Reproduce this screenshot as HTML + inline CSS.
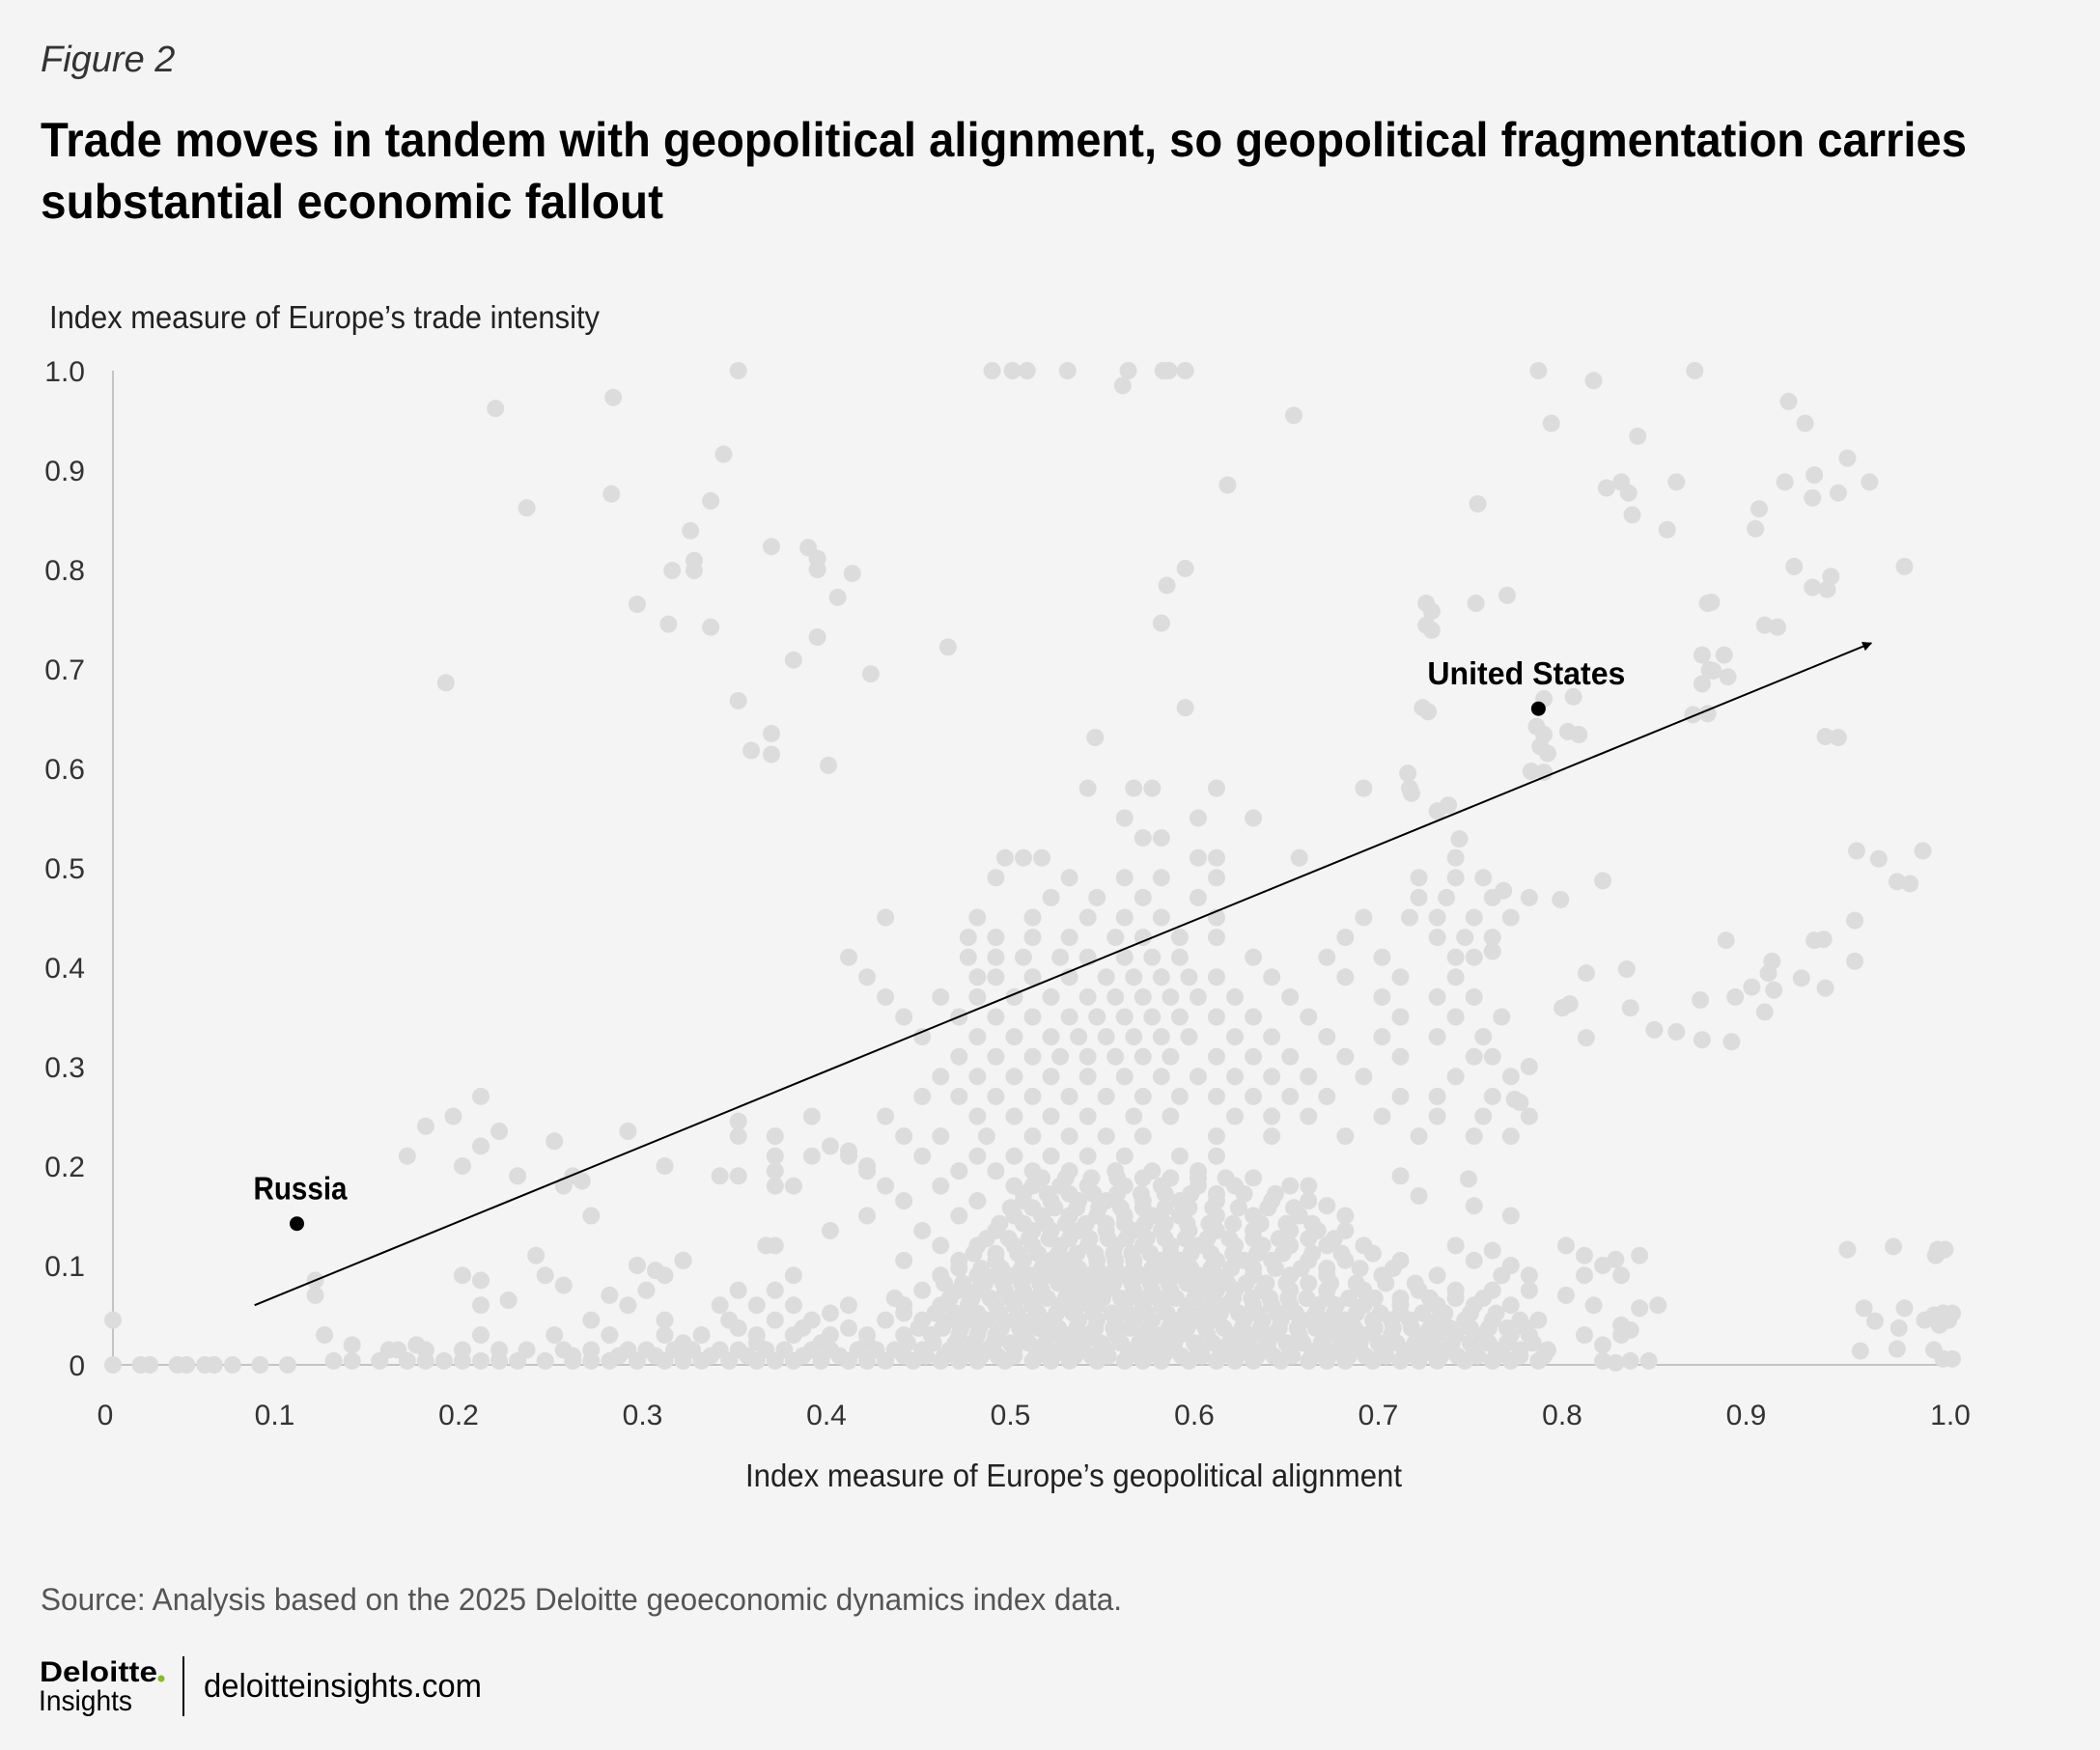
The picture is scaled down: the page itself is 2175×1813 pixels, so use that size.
<!DOCTYPE html>
<html><head><meta charset="utf-8">
<style>
html,body{margin:0;padding:0;background:#f4f4f4;}
svg{display:block;}
text{font-family:"Liberation Sans",sans-serif;}
</style></head>
<body>
<svg id="chart" width="2175" height="1813" viewBox="0 0 2175 1813" xmlns="http://www.w3.org/2000/svg">
<defs><marker id="ah" markerWidth="10" markerHeight="10" refX="9" refY="5" orient="auto" markerUnits="userSpaceOnUse" viewBox="0 0 10 10"><path d="M0,0 L10,5 L0,10 z" fill="#000"/></marker></defs>
<rect width="2175" height="1813" fill="#f4f4f4"/>
<text x="42" y="74" font-family="Liberation Serif,serif" font-style="italic" font-size="38" fill="#333">Figure 2</text>
<text x="42" y="162" font-size="50" font-weight="bold" fill="#000" textLength="1995" lengthAdjust="spacingAndGlyphs">Trade moves in tandem with geopolitical alignment, so geopolitical fragmentation carries</text>
<text x="42" y="226" font-size="50" font-weight="bold" fill="#000" textLength="645" lengthAdjust="spacingAndGlyphs">substantial economic fallout</text>
<text x="51" y="340" font-size="33" fill="#222" textLength="570" lengthAdjust="spacingAndGlyphs">Index measure of Europe’s trade intensity</text>
<g id="yticks"></g><g id="xticks"></g>
<line x1="117" y1="384" x2="117" y2="1414" stroke="#c4c4c4" stroke-width="2"/>
<line x1="117" y1="1414" x2="2022" y2="1414" stroke="#c4c4c4" stroke-width="2"/>
<g id="dots"></g>
<g id="annot"></g>
<text x="1112" y="1540" text-anchor="middle" font-size="33" fill="#222" textLength="680" lengthAdjust="spacingAndGlyphs">Index measure of Europe’s geopolitical alignment</text>
<text x="42" y="1668" font-size="32" fill="#555" textLength="1120" lengthAdjust="spacingAndGlyphs">Source: Analysis based on the 2025 Deloitte geoeconomic dynamics index data.</text>
<text x="41" y="1742" font-size="30" font-weight="bold" fill="#000" textLength="122" lengthAdjust="spacingAndGlyphs">Deloitte</text>
<circle cx="167" cy="1739" r="3.5" fill="#86bc25"/>
<text x="40" y="1772" font-size="30" fill="#000" textLength="97" lengthAdjust="spacingAndGlyphs">Insights</text>
<line x1="190" y1="1716" x2="190" y2="1778" stroke="#000" stroke-width="2"/>
<text x="211" y="1758" font-size="34" fill="#000" textLength="288" lengthAdjust="spacingAndGlyphs">deloitteinsights.com</text>
</svg>
<script>
const yTickValues = [0, 0.1, 0.2, 0.3, 0.4, 0.5, 0.6, 0.7, 0.8, 0.9, 1.0];
const yTickLabels = ["0","0.1","0.2","0.3","0.4","0.5","0.6","0.7","0.8","0.9","1.0"];
const xTickValues = [0, 0.1, 0.2, 0.3, 0.4, 0.5, 0.6, 0.7, 0.8, 0.9, 1.0];
const xTickLabels = ["0","0.1","0.2","0.3","0.4","0.5","0.6","0.7","0.8","0.9","1.0"];
const outlierPoints = [[0.34,1],[0.478,1],[0.489,1],[0.497,1],[0.519,1],[0.549,0.985],[0.552,1],[0.571,1],[0.574,1],[0.583,1],[0.775,1],[0.805,0.99],[0.86,1],
[0.208,0.962],[0.271,0.876],[0.225,0.862],[0.272,0.973],[0.332,0.916],[0.325,0.869],[0.314,0.839],[0.316,0.809],[0.316,0.799],[0.304,0.799],[0.302,0.745],[0.325,0.742],[0.285,0.765],[0.181,0.686],[0.34,0.668],[0.347,0.618],[0.358,0.614],[0.358,0.635],[0.358,0.823],[0.378,0.822],[0.383,0.8],[0.383,0.811],[0.394,0.772],[0.402,0.796],[0.37,0.709],[0.383,0.732],[0.389,0.603],[0.412,0.695],[0.454,0.722],
[0.642,0.955],[0.606,0.885],[0.583,0.801],[0.573,0.784],[0.57,0.746],[0.583,0.661],[0.534,0.631],[0.717,0.758],[0.717,0.739],[0.715,0.657],[0.741,0.766],[0.742,0.866],[0.778,0.634],[0.78,0.615],[0.778,0.596],[0.797,0.634],[0.778,0.67],
[0.782,0.947],[0.829,0.934],[0.812,0.882],[0.82,0.888],[0.824,0.877],[0.826,0.855],[0.845,0.84],[0.85,0.888],[0.867,0.766],[0.868,0.699],[0.876,0.714],[0.878,0.692],[0.867,0.655],[0.895,0.861],[0.893,0.841],[0.911,0.969],[0.92,0.947],[0.909,0.888],[0.925,0.895],[0.924,0.872],[0.938,0.877],[0.932,0.78],[0.934,0.793],[0.943,0.912],[0.955,0.888],[0.974,0.803],[0.905,0.742],[0.914,0.803],[0.938,0.631],[0.93,0.428],
[0.948,0.517],[0.96,0.509],[0.984,0.517],[0.97,0.486],[0.977,0.484],[0.947,0.447],[0.947,0.406],[0.925,0.427],[0.931,0.379],[0.918,0.389],[0.902,0.406],[0.9,0.394],[0.903,0.377],[0.891,0.38],[0.882,0.37],[0.898,0.355],[0.877,0.427],[0.88,0.325],[0.863,0.367],[0.864,0.327],[0.85,0.335],[0.838,0.337],[0.825,0.359],[0.823,0.398],[0.81,0.487],[0.787,0.468],[0.801,0.394],[0.801,0.329],[0.792,0.363],[0.788,0.359],[0.77,0.3],[0.765,0.264],[0.762,0.267],[0.737,0.187],[0.756,0.477],[0.75,0.416],
[0.732,0.529],[0.726,0.563],[0.72,0.557],[0.706,0.575],[0.704,0.595],[0.712,0.661],[0.714,0.744],[0.714,0.766],[0.758,0.774],[0.771,0.597],[0.776,0.622],[0.774,0.642],[0.791,0.637],[0.794,0.672],[0.859,0.654],[0.864,0.685],[0.87,0.698],[0.864,0.714],[0.869,0.767],[0.898,0.744],[0.931,0.632],[0.924,0.782],
[0.943,0.116],[0.968,0.119],[0.992,0.116],[0.996,0.116],[0.991,0.11],[0.952,0.057],[0.958,0.044],[0.974,0.057],[0.971,0.037],[0.95,0.014],[0.97,0.016],[0.985,0.045],[0.99,0.05],[0.995,0.052],[1.0,0.052],[0.998,0.045],[0.993,0.04],[0.99,0.015],[0.995,0.006],[1.0,0.006],[0.83,0.057],[0.817,0.106],[0.817,0.002],
[0,0],[0.015,0],[0.02,0],[0.035,0],[0.04,0],[0.05,0],[0.055,0],[0.065,0],[0.08,0],[0.095,0],[0,0.045]];
const sidePoints = [[0.17,0.24],[0.16,0.21],[0.19,0.2],[0.2,0.22],[0.185,0.25],[0.2,0.27],[0.21,0.235],[0.24,0.225],[0.22,0.19],[0.245,0.18],[0.255,0.185],[0.25,0.19],[0.19,0.09],[0.2,0.085],[0.2,0.06],[0.215,0.065],[0.23,0.11],[0.235,0.09],[0.245,0.08],[0.27,0.07],[0.285,0.1],[0.26,0.15],[0.295,0.095],[0.31,0.105],[0.28,0.235],[0.3,0.2],[0.34,0.245],[0.34,0.19],[0.33,0.19],[0.355,0.12],[0.36,0.18],[0.38,0.21],[0.39,0.22],[0.4,0.215],[0.41,0.2],[0.11,0.085],[0.11,0.07],[0.115,0.03],[0.13,0.02],[0.165,0.02],[0.15,0.015],
[0.73,0.12],[0.75,0.115],[0.76,0.1],[0.77,0.09],[0.79,0.12],[0.8,0.11],[0.81,0.1],[0.82,0.09],[0.83,0.11],[0.79,0.07],[0.805,0.06],[0.82,0.04],[0.825,0.035],[0.81,0.02],[0.84,0.06],[0.76,0.15],[0.74,0.16],[0.7,0.19],[0.71,0.17],[0.65,0.18],[0.66,0.16]];
const cloudRowY = [0.004,0.015,0.03,0.045,0.06,0.075,0.09,0.105,0.12,0.135,0.15,0.165,0.18,0.195,0.21,0.23,0.25,0.27,0.29,0.31,0.33,0.35,0.37,0.39,0.41,0.43,0.45,0.47,0.49,0.51,0.53,0.55,0.58];
const cloudRowX = [
[0.12,0.13,0.145,0.16,0.17,0.18,0.19,0.2,0.21,0.22,0.235,0.25,0.26,0.27,0.285,0.3,0.31,0.32,0.335,0.35,0.36,0.37,0.385,0.4,0.41,0.42,0.435,0.45,0.46,0.47,0.485,0.5,0.51,0.52,0.535,0.55,0.56,0.57,0.585,0.6,0.61,0.62,0.635,0.65,0.66,0.67,0.685,0.7,0.71,0.72,0.735,0.75,0.76,0.775,0.81,0.825,0.835],
[0.155,0.17,0.19,0.21,0.225,0.245,0.26,0.28,0.29,0.305,0.315,0.33,0.34,0.355,0.365,0.38,0.39,0.405,0.415,0.425,0.44,0.455,0.465,0.475,0.49,0.505,0.515,0.525,0.54,0.555,0.565,0.575,0.59,0.605,0.615,0.625,0.64,0.655,0.665,0.675,0.69,0.705,0.715,0.725,0.74,0.755,0.765,0.78],
[0.2,0.24,0.27,0.3,0.32,0.35,0.37,0.39,0.41,0.43,0.445,0.46,0.47,0.48,0.495,0.51,0.52,0.53,0.545,0.56,0.57,0.58,0.595,0.61,0.62,0.63,0.645,0.66,0.67,0.68,0.695,0.71,0.72,0.73,0.745,0.76,0.77,0.8,0.82],
[0.26,0.3,0.335,0.36,0.38,0.42,0.44,0.455,0.465,0.475,0.49,0.5,0.51,0.525,0.535,0.545,0.555,0.565,0.58,0.59,0.6,0.615,0.625,0.635,0.65,0.66,0.67,0.685,0.695,0.705,0.72,0.735,0.75,0.765,0.775],
[0.28,0.33,0.35,0.37,0.4,0.43,0.45,0.465,0.48,0.49,0.5,0.515,0.525,0.535,0.55,0.56,0.57,0.585,0.595,0.605,0.62,0.63,0.64,0.655,0.665,0.68,0.7,0.72,0.74,0.76],
[0.29,0.34,0.36,0.44,0.46,0.47,0.485,0.495,0.505,0.52,0.53,0.54,0.555,0.565,0.575,0.59,0.6,0.61,0.625,0.64,0.66,0.68,0.71,0.73,0.75,0.77],
[0.3,0.37,0.45,0.47,0.48,0.49,0.5,0.51,0.52,0.53,0.54,0.55,0.56,0.57,0.58,0.59,0.6,0.62,0.64,0.66,0.69,0.72,0.755,0.8],
[0.31,0.43,0.46,0.48,0.495,0.51,0.52,0.535,0.545,0.555,0.57,0.58,0.6,0.615,0.63,0.65,0.67,0.7,0.74],
[0.36,0.45,0.47,0.49,0.5,0.515,0.53,0.545,0.56,0.575,0.59,0.61,0.625,0.64,0.66,0.68],
[0.39,0.44,0.48,0.5,0.51,0.525,0.54,0.555,0.57,0.585,0.6,0.62,0.64,0.655,0.67],
[0.41,0.46,0.49,0.505,0.52,0.535,0.55,0.565,0.58,0.6,0.62,0.645,0.67],
[0.43,0.47,0.495,0.51,0.525,0.54,0.56,0.58,0.6,0.63,0.65],
[0.37,0.42,0.45,0.49,0.5,0.515,0.53,0.55,0.57,0.59,0.61,0.64],
[0.36,0.41,0.46,0.48,0.5,0.52,0.545,0.565,0.59],
[0.36,0.4,0.44,0.47,0.49,0.51,0.53,0.55,0.58,0.6],
[0.34,0.36,0.43,0.45,0.475,0.5,0.52,0.54,0.56,0.6,0.63,0.67,0.71,0.74,0.76],
[0.38,0.42,0.47,0.49,0.51,0.53,0.555,0.575,0.61,0.63,0.65,0.69,0.72,0.745,0.77],
[0.44,0.46,0.48,0.5,0.52,0.54,0.56,0.58,0.6,0.62,0.64,0.66,0.7,0.72,0.75],
[0.45,0.47,0.49,0.51,0.53,0.55,0.57,0.59,0.61,0.63,0.65,0.68,0.73,0.76],
[0.46,0.48,0.5,0.515,0.53,0.545,0.56,0.575,0.6,0.62,0.64,0.67,0.7,0.74,0.75],
[0.44,0.47,0.49,0.51,0.525,0.54,0.555,0.57,0.585,0.61,0.63,0.66,0.69,0.72,0.745],
[0.43,0.46,0.48,0.5,0.52,0.535,0.55,0.565,0.58,0.6,0.62,0.65,0.7,0.73,0.755],
[0.42,0.45,0.47,0.49,0.51,0.53,0.545,0.56,0.575,0.59,0.61,0.64,0.69,0.72,0.74],
[0.41,0.47,0.48,0.5,0.52,0.54,0.555,0.57,0.585,0.6,0.63,0.67,0.7,0.73],
[0.4,0.465,0.48,0.495,0.515,0.53,0.55,0.565,0.58,0.62,0.66,0.69,0.73,0.74],
[0.465,0.48,0.5,0.52,0.545,0.56,0.58,0.6,0.67,0.72,0.735,0.75],
[0.42,0.47,0.5,0.53,0.55,0.57,0.6,0.68,0.705,0.72,0.74,0.76],
[0.51,0.535,0.56,0.59,0.71,0.725,0.75,0.77],
[0.48,0.52,0.55,0.57,0.6,0.71,0.73,0.745],
[0.485,0.495,0.505,0.59,0.6,0.645,0.73],
[0.56,0.57],
[0.55,0.59,0.62],
[0.53,0.555,0.565,0.6,0.68,0.705]];
const coreRowY = [0.009,0.022,0.037,0.052,0.067,0.082,0.097,0.112,0.127,0.142,0.158,0.172,0.188];
const coreRowX = [
[0.25,0.275,0.295,0.325,0.345,0.375,0.395,0.43,0.442,0.452,0.462,0.472,0.481,0.49,0.502,0.511,0.523,0.532,0.541,0.552,0.562,0.571,0.581,0.592,0.602,0.611,0.622,0.631,0.641,0.652,0.661,0.672,0.681,0.692,0.702,0.711,0.722,0.731,0.742,0.752,0.765,0.778],
[0.31,0.35,0.385,0.41,0.432,0.446,0.458,0.468,0.479,0.488,0.498,0.507,0.518,0.528,0.537,0.548,0.558,0.567,0.577,0.588,0.598,0.607,0.617,0.628,0.638,0.647,0.657,0.668,0.678,0.688,0.698,0.708,0.718,0.728,0.738,0.748,0.758,0.772],
[0.34,0.375,0.4,0.438,0.451,0.461,0.471,0.483,0.493,0.503,0.514,0.524,0.534,0.544,0.553,0.563,0.574,0.584,0.594,0.604,0.614,0.624,0.634,0.644,0.654,0.664,0.675,0.686,0.696,0.706,0.716,0.727,0.738,0.748,0.758,0.768],
[0.39,0.43,0.447,0.458,0.47,0.482,0.492,0.503,0.513,0.522,0.533,0.543,0.552,0.562,0.573,0.583,0.593,0.602,0.612,0.622,0.633,0.643,0.654,0.664,0.676,0.689,0.7,0.712,0.724,0.738,0.752],
[0.425,0.455,0.467,0.477,0.488,0.498,0.508,0.518,0.528,0.538,0.548,0.558,0.568,0.578,0.588,0.598,0.609,0.619,0.629,0.639,0.649,0.66,0.672,0.686,0.7,0.716,0.73,0.745],
[0.452,0.462,0.474,0.484,0.494,0.504,0.514,0.524,0.534,0.544,0.554,0.564,0.574,0.584,0.595,0.606,0.616,0.627,0.638,0.65,0.662,0.676,0.692,0.708],
[0.46,0.472,0.483,0.494,0.505,0.515,0.525,0.535,0.545,0.555,0.565,0.575,0.586,0.597,0.608,0.62,0.632,0.646,0.66,0.678,0.696],
[0.468,0.48,0.492,0.503,0.514,0.524,0.534,0.544,0.554,0.564,0.575,0.586,0.597,0.609,0.622,0.636,0.652,0.668,0.685],
[0.475,0.487,0.498,0.509,0.52,0.531,0.541,0.551,0.562,0.572,0.583,0.595,0.607,0.62,0.634,0.65,0.664],
[0.482,0.495,0.507,0.518,0.529,0.54,0.55,0.561,0.572,0.584,0.596,0.609,0.624,0.638,0.652],
[0.488,0.5,0.512,0.524,0.536,0.548,0.56,0.572,0.585,0.598,0.612,0.628,0.642],
[0.495,0.508,0.52,0.533,0.546,0.559,0.572,0.586,0.6,0.615,0.632],
[0.505,0.518,0.532,0.546,0.56,0.575,0.59,0.605,0.62]];
const labelNames = ["Russia","United States"];
const labelX = [0.1, 0.775];
const labelY = [0.142, 0.66];
const trendStart = [0.077, 0.06];
const trendEnd = [0.956, 0.726];

const NS = "http://www.w3.org/2000/svg";
const X0 = 117, X1 = 2022, Y0 = 1414, Y1 = 384;
function sx(v){ return X0 + v*(X1-X0); }
function sy(v){ return Y0 - v*(Y0-Y1); }
function mk(tag, attrs, parent){ const e=document.createElementNS(NS,tag); for(const k in attrs) e.setAttribute(k,attrs[k]); parent.appendChild(e); return e; }

const yt = document.getElementById('yticks');
yTickValues.forEach((v,i)=>{
  const t = mk('text',{x:88,y:sy(v)+11,'text-anchor':'end','font-size':30,fill:'#333'},yt);
  
  
  t.textContent = yTickLabels[i];
});
const xt = document.getElementById('xticks');
xTickValues.forEach((v,i)=>{
  const off = (i===0) ? -8 : (i===xTickValues.length-1 ? -2 : -23);
  const t = mk('text',{x:sx(v)+off,y:1476,'text-anchor':'middle','font-size':30,fill:'#333'},xt);
  
  
  t.textContent = xTickLabels[i];
});
const dots = document.getElementById('dots');
function dot(x,y){
  const c = mk('circle',{cx:sx(x),cy:sy(y),r:9,fill:'#dcdcdd'},dots);
  
  
}
cloudRowY.forEach((y,i)=>{ cloudRowX[i].forEach(x=>dot(x,y)); });
coreRowY.forEach((y,i)=>{ coreRowX[i].forEach(x=>dot(x,y)); });
sidePoints.forEach(p=>dot(p[0],p[1]));
outlierPoints.forEach(p=>dot(p[0],p[1]));

const an = document.getElementById('annot');
const tl = mk('line',{x1:sx(trendStart[0]),y1:sy(trendStart[1]),x2:sx(trendEnd[0]),y2:sy(trendEnd[1]),stroke:'#000','stroke-width':2,'marker-end':'url(#ah)'},an);


labelNames.forEach((n,i)=>{
  const c = mk('circle',{cx:sx(labelX[i]),cy:sy(labelY[i]),r:7.5,fill:'#000'},an);
  
  
  const isUS = i===1;
  const t = mk('text',{x:isUS? sx(labelX[i])-115 : sx(labelX[i])-45, y:sy(labelY[i])-25,'font-size':33,'font-weight':'bold',fill:'#000',textLength:isUS?205:97,lengthAdjust:'spacingAndGlyphs'},an);
  
  
  t.textContent = n;
});
</script>
</body></html>
